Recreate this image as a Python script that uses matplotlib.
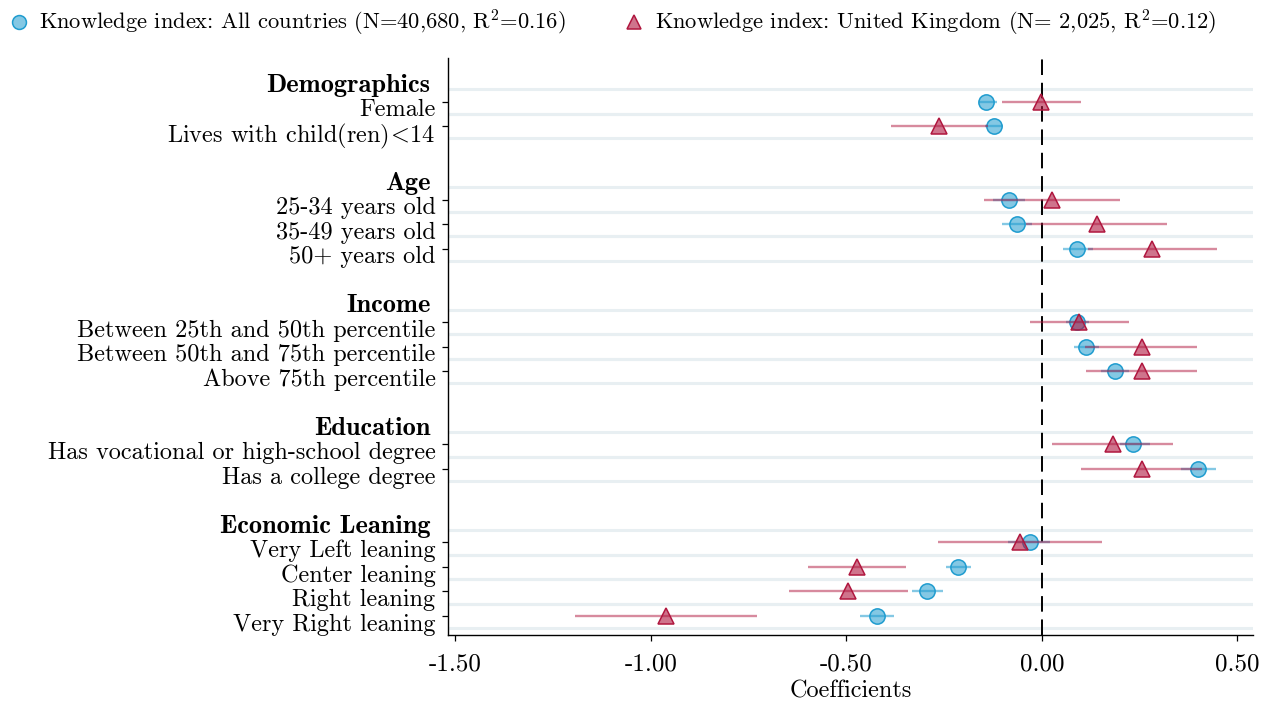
import matplotlib
matplotlib.use("Agg")
import matplotlib.pyplot as plt
import matplotlib.transforms as mtransforms
from matplotlib.lines import Line2D
import numpy as np

plt.rcParams["font.family"] = ["cmr10", "DejaVu Serif"]
plt.rcParams["mathtext.fontset"] = "cm"
plt.rcParams["axes.unicode_minus"] = False

# groups and their rows (top to bottom)
groups = ["Demographics", "Age", "Income", "Education", "Economic Leaning"]
group_rows = [
    ["Female", r"Lives with child(ren)$\!<\!$14"],
    ["25-34 years old", "35-49 years old", "50+ years old"],
    ["Between 25th and 50th percentile", "Between 50th and 75th percentile",
     "Above 75th percentile"],
    ["Has vocational or high-school degree", "Has a college degree"],
    ["Very Left leaning", "Center leaning", "Right leaning", "Very Right leaning"],
]

# all countries: coefficient, lower, upper
all_coef = [-0.142, -0.123, -0.084, -0.063, 0.091, 0.090, 0.114, 0.187,
            0.234, 0.400, -0.031, -0.214, -0.293, -0.421]
all_lo = [-0.160, -0.146, -0.126, -0.101, 0.055, 0.061, 0.083, 0.151,
          0.200, 0.355, -0.086, -0.246, -0.331, -0.464]
all_hi = [-0.116, -0.099, -0.043, -0.024, 0.130, 0.121, 0.147, 0.223,
          0.276, 0.445, 0.022, -0.182, -0.254, -0.378]

# united kingdom
uk_coef = [-0.003, -0.263, 0.026, 0.142, 0.281, 0.095, 0.255, 0.255,
           0.181, 0.255, -0.056, -0.472, -0.495, -0.962]
uk_lo = [-0.103, -0.387, -0.148, -0.040, 0.118, -0.031, 0.110, 0.114,
         0.026, 0.099, -0.265, -0.598, -0.646, -1.194]
uk_hi = [0.100, -0.138, 0.201, 0.319, 0.447, 0.223, 0.396, 0.396,
         0.336, 0.410, 0.155, -0.348, -0.343, -0.730]

xticks = [-1.5, -1.0, -0.5, 0.0, 0.5]

# build slot positions: header slot, rows, then one blank slot
header_pos, row_pos, row_labels = [], [], []
pos = 0
for g, rows in zip(groups, group_rows):
    header_pos.append(pos)
    pos += 1
    for r in rows:
        row_pos.append(pos)
        row_labels.append(r)
        pos += 1
    pos += 1
row_pos = np.array(row_pos)

fig = plt.figure(figsize=(12.7, 7.06), dpi=100)
ax = fig.add_axes([0.3528, 0.1006, 0.6338, 0.8172])

blue = "#1f9ccf"
red = "#b0173f"

# light bands between rows
for y in row_pos:
    for yy in (y - 0.5, y + 0.5):
        ax.axhline(yy, color="#e8eff2", lw=2.2, zorder=0)

ax.axvline(0, color="black", lw=1.4, ls=(0, (8, 4)), zorder=1)

ax.hlines(row_pos, all_lo, all_hi, color=blue, alpha=0.55, lw=1.7, zorder=2)
ax.plot(all_coef, row_pos, "o", ms=11, mfc=(0.12, 0.61, 0.81, 0.55),
        mec=blue, mew=1.1, zorder=3)
ax.hlines(row_pos, uk_lo, uk_hi, color=red, alpha=0.5, lw=1.7, zorder=4)
ax.plot(uk_coef, row_pos, "^", ms=11, mfc=(0.69, 0.09, 0.25, 0.6),
        mec=red, mew=1.1, zorder=5)

ax.set_ylim(pos - 2 + 0.78, -0.78)
ax.set_xlim(-1.519, 0.54)
ax.set_yticks(row_pos)
ax.set_yticklabels(row_labels, fontsize=17.5)
ax.set_xticks(xticks)
ax.set_xticklabels([f"{v:.2f}" for v in xticks], fontsize=18)
ax.set_xlabel("Coefficients", fontsize=17.5, labelpad=4)
ax.tick_params(axis="y", length=4, width=0.9, pad=5)
ax.tick_params(axis="x", length=4, width=0.9, pad=9)

shift = mtransforms.ScaledTranslation(0, -4.5 / 72, fig.dpi_scale_trans)
for lab in ax.get_yticklabels():
    lab.set_transform(lab.get_transform() + shift)

hshift = mtransforms.ScaledTranslation(0, -6 / 72, fig.dpi_scale_trans)
for g, y in zip(groups, header_pos):
    ax.text(-0.022, y, g, transform=ax.get_yaxis_transform() + hshift,
            ha="right", va="center", fontsize=19, family="cmb10")

for s in ["top", "right"]:
    ax.spines[s].set_visible(False)
for s in ["left", "bottom"]:
    ax.spines[s].set_linewidth(1.0)

handles = [
    Line2D([], [], ls="none", marker="o", ms=10, mfc=(0.12, 0.61, 0.81, 0.55),
           mec=blue, mew=1.1),
    Line2D([], [], ls="none", marker="^", ms=10, mfc=(0.69, 0.09, 0.25, 0.6),
           mec=red, mew=1.1),
]
labels = [r"Knowledge index: All countries (N=40,680, R$^2$=0.16)",
          r"Knowledge index: United Kingdom (N= 2,025, R$^2$=0.12)"]
fig.legend(handles, labels, loc="upper left", bbox_to_anchor=(-0.0063, 1.008),
           ncol=2, frameon=False, fontsize=16.2, handletextpad=0.3,
           columnspacing=2.45, handlelength=1.2, borderaxespad=0.2)

fig.savefig("out.png", dpi=100)
